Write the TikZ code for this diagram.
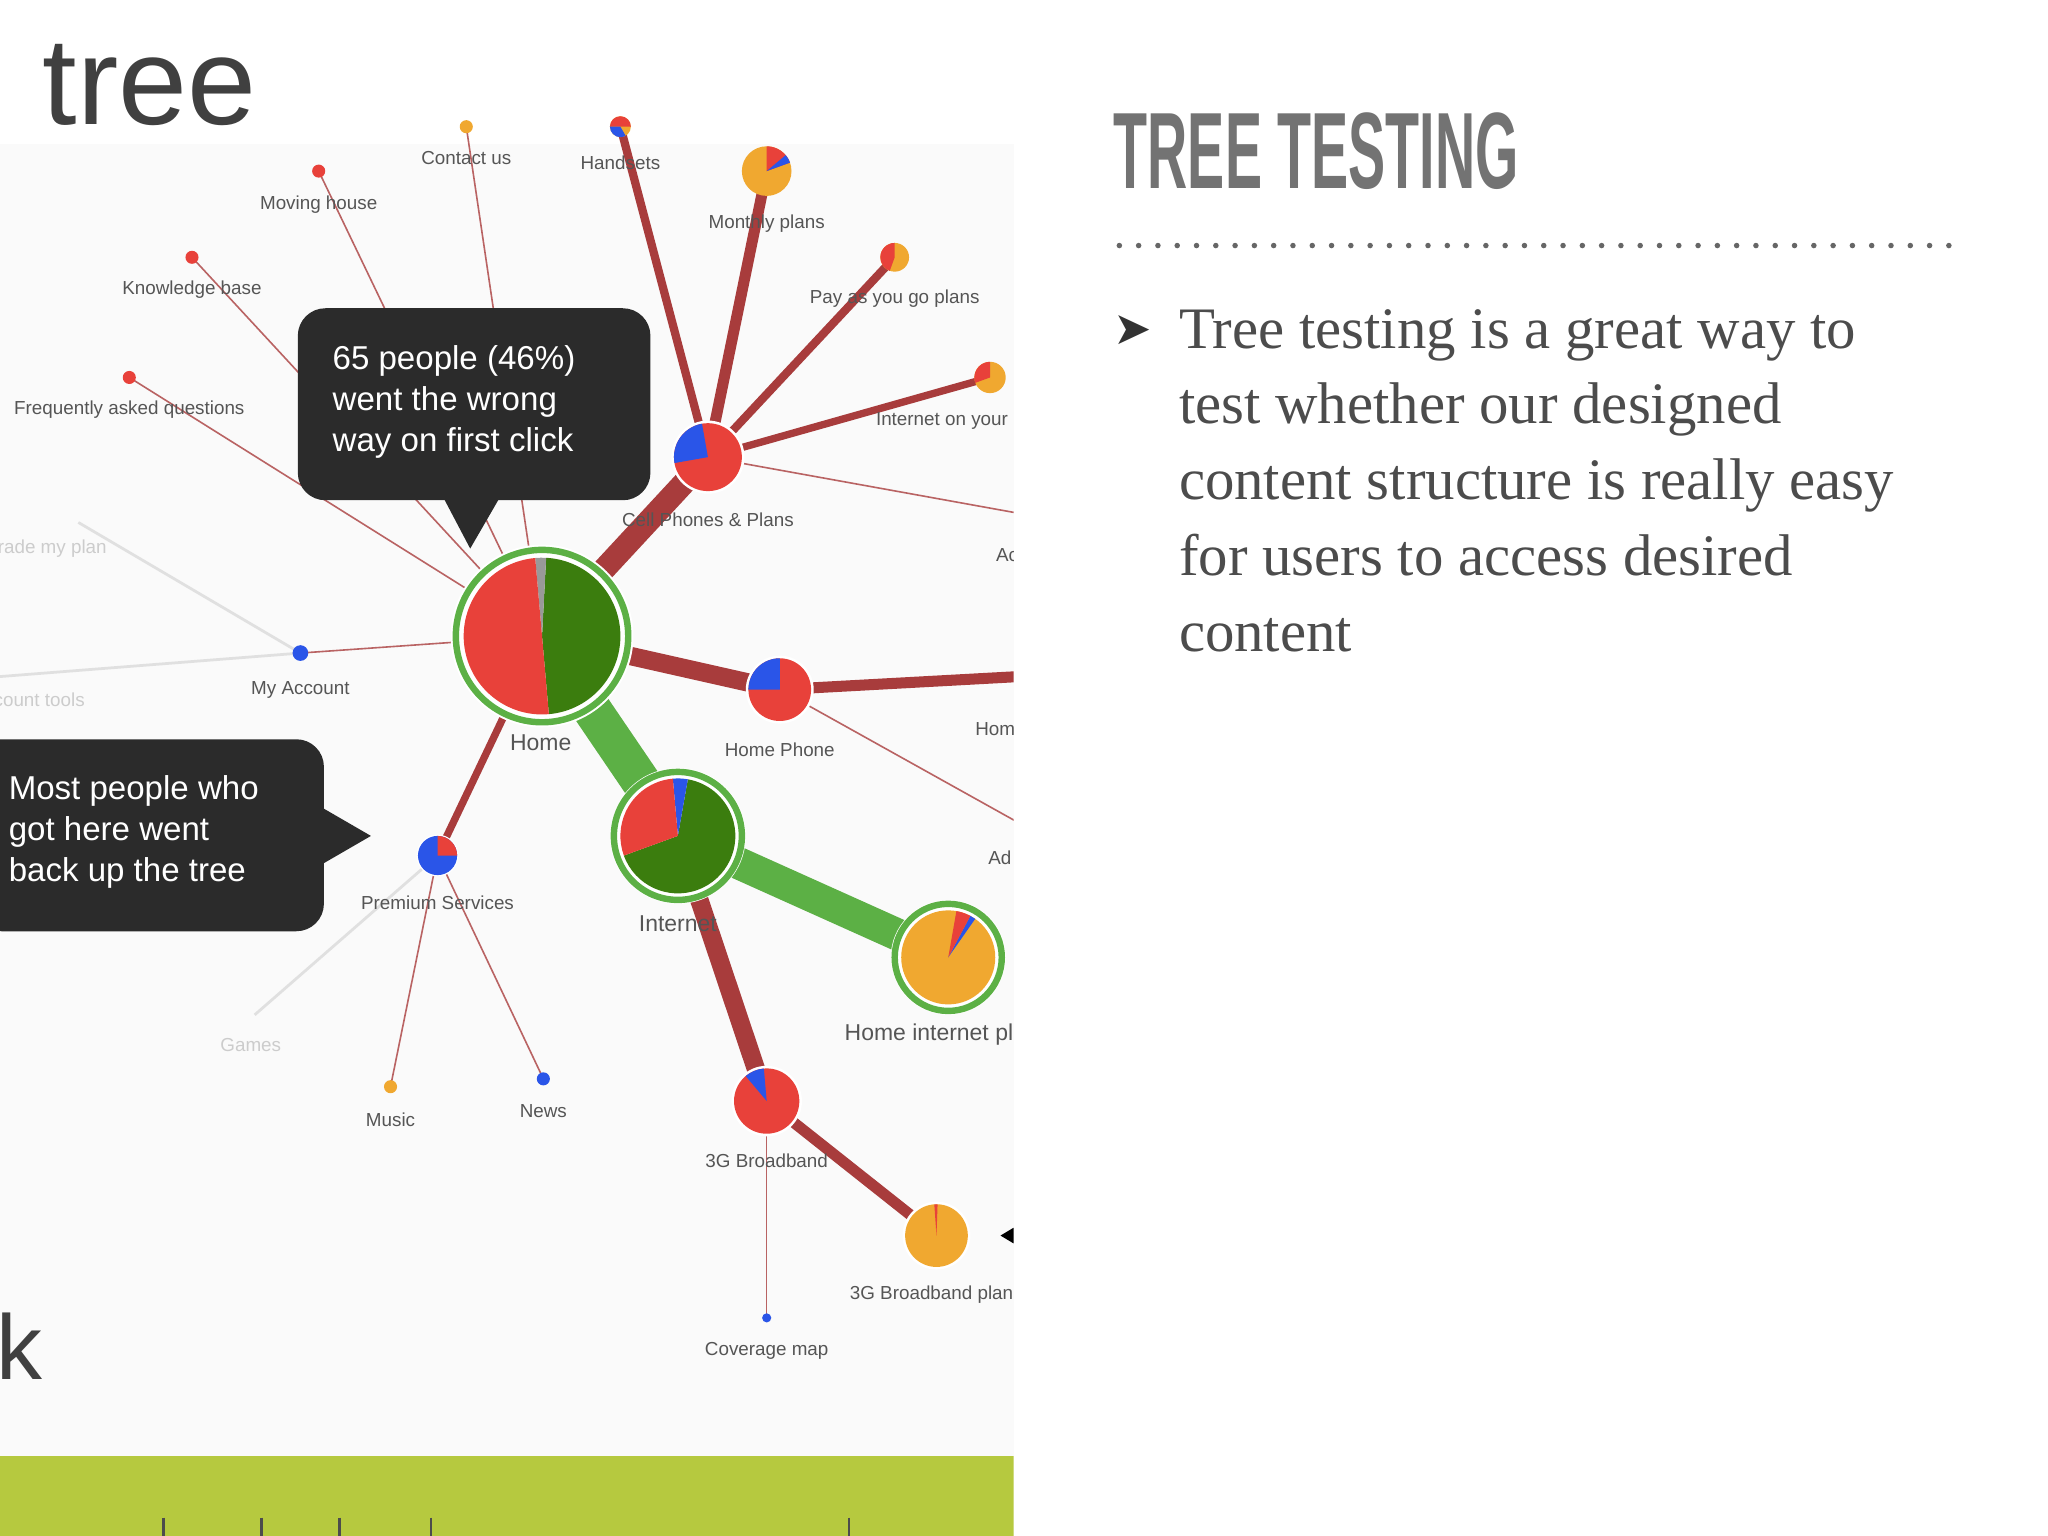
\documentclass[tikz,border=0pt]{standalone}
\usepackage{fontspec}
\setmainfont{Liberation Sans}
\newfontfamily\bodyfont{Liberation Serif}
\newfontfamily\symfont{DejaVu Sans}
\definecolor{pr}{HTML}{E8413A}
\definecolor{pg}{HTML}{3B7D0E}
\definecolor{pb}{HTML}{2A55E8}
\definecolor{po}{HTML}{F0A830}
\definecolor{er}{HTML}{A83C3C}
\definecolor{eg}{HTML}{5CB045}
\definecolor{tip}{HTML}{2B2B2B}
\definecolor{lbl}{HTML}{555555}
\definecolor{bar}{HTML}{B6C93F}
\tikzset{
  lab/.style={font=\fontsize{4.1}{5}\selectfont, text=lbl, inner sep=0pt},
  faint/.style={font=\fontsize{4.1}{5}\selectfont, text=black!20, inner sep=0pt},
  tiptext/.style={font=\fontsize{7.2}{8.9}\selectfont, text=white, align=left, inner sep=0pt, anchor=north west},
  thick edge/.style={draw=er, line width=#1},
  thin edge/.style={draw=er!80, line width=0.35pt},
  dot/.style={circle, inner sep=0pt, minimum size=0.1cm},
}
\newcommand{\pwedge}[5]{\fill[#5] (#1) -- ++(#2:#4) arc[start angle=#2, end angle=#3, radius=#4] -- cycle;}
\begin{document}
\begin{tikzpicture}[x=0.01cm,y=0.01cm]
\useasboundingbox (0,0) rectangle (1568,-1176);
\fill[white] (0,0) rectangle (1568,-1176);
\fill[black!2] (0,-110) rectangle (776,-1115);
\begin{scope}
\clip (0,0) rectangle (776,-1176);
\node[anchor=base east, font=\fontsize{27}{27}\selectfont, text=black!75, inner sep=0pt] (tree) at (197,-95) {tree};
\node[anchor=base west, font=\fontsize{20}{20}\selectfont, text=black!75, inner sep=0pt] (kk) at (-3,-1056) {k};
\fill[bar] (0,-1115) rectangle (776,-1176);
\foreach \x in {125,200,260,330,650} \draw[black!70, line width=0.6pt] (\x,-1162) -- (\x,-1176);
\coordinate (home) at (415,-487);
\coordinate (cell) at (542,-350);
\coordinate (hphone) at (597,-528);
\coordinate (inet) at (519,-640);
\coordinate (hip) at (726,-733);
\coordinate (g3) at (587,-843);
\coordinate (g3p) at (717,-946);
\coordinate (prem) at (335,-655);
\coordinate (myacc) at (230,-500);
\coordinate (contact) at (357,-97);
\coordinate (moving) at (244,-131);
\coordinate (kb) at (147,-197);
\coordinate (faq) at (99,-289);
\coordinate (hand) at (475,-97);
\coordinate (month) at (587,-131);
\coordinate (payg) at (685,-197);
\coordinate (iony) at (758,-289);
\coordinate (music) at (299,-832);
\coordinate (news) at (416,-826);
\coordinate (cov) at (587,-1009);
\coordinate (ac) at (780,-393);
\coordinate (hpr) at (780,-518);
\coordinate (hpr2) at (780,-630);
\coordinate (fl1) at (0,-518);
\coordinate (fl2) at (60,-400);
\coordinate (fl3) at (195,-777);
\draw[black!12, line width=0.6pt] (myacc) -- (fl1);
\draw[black!12, line width=0.6pt] (myacc) -- (fl2);
\draw[black!12, line width=0.6pt] (prem) -- (fl3);
\node[faint] (f1) at (40,-420) {rade my plan};
\node[faint] (f2) at (30,-536) {count tools};
\node[faint] (f3) at (192,-800) {Games};
\draw[thin edge] (home) -- (contact);
\draw[thin edge] (home) -- (moving);
\draw[thin edge] (home) -- (kb);
\draw[thin edge] (home) -- (faq);
\draw[thin edge] (home) -- (myacc);
\draw[thin edge] (cell) -- (ac);
\draw[thin edge] (hphone) -- (hpr2);
\draw[thin edge] (prem) -- (music);
\draw[thin edge] (prem) -- (news);
\draw[thin edge] (g3) -- (cov);
\draw[thick edge=1.6pt] (home) -- (prem);
\draw[thick edge=1.8pt] (cell) -- (hand);
\draw[thick edge=2.4pt] (cell) -- (month);
\draw[thick edge=1.8pt] (cell) -- (payg);
\draw[thick edge=1.6pt] (cell) -- (iony);
\draw[thick edge=2.4pt] (hphone) -- (hpr);
\draw[thick edge=5pt] (home) -- (cell);
\draw[thick edge=4pt] (home) -- (hphone);
\draw[thick edge=4pt] (inet) -- (g3);
\draw[thick edge=2.4pt] (g3) -- (g3p);
\draw[draw=eg, line width=8.5pt] (home) -- (inet);
\draw[draw=eg, line width=7pt] (inet) -- (hip);
\fill[white] (home) circle[radius=70];
\draw[eg, line width=1.4pt] (home) circle[radius=66];
\pwedge{home}{-85}{87}{60}{pg}
\pwedge{home}{87}{95}{60}{black!40}
\pwedge{home}{95}{275}{60}{pr}
\fill[white] (inet) circle[radius=52];
\draw[eg, line width=1.4pt] (inet) circle[radius=49];
\pwedge{inet}{-160}{80}{44}{pg}
\pwedge{inet}{80}{95}{44}{pb}
\pwedge{inet}{95}{200}{44}{pr}
\fill[white] (hip) circle[radius=44];
\draw[eg, line width=1.4pt] (hip) circle[radius=41];
\fill[po] (hip) circle[radius=36];
\pwedge{hip}{55}{62}{36}{pb}
\pwedge{hip}{62}{80}{36}{pr}
\fill[white] (cell) circle[radius=28];
\fill[pr] (cell) circle[radius=26];
\pwedge{cell}{100}{190}{26}{pb}
\fill[white] (hphone) circle[radius=26];
\fill[pr] (hphone) circle[radius=24];
\pwedge{hphone}{90}{180}{24}{pb}
\fill[white] (g3) circle[radius=27];
\fill[pr] (g3) circle[radius=25];
\pwedge{g3}{95}{130}{25}{pb}
\fill[white] (g3p) circle[radius=26];
\fill[po] (g3p) circle[radius=24];
\pwedge{g3p}{88}{94}{24}{pr}
\fill[white] (prem) circle[radius=16];
\fill[pb] (prem) circle[radius=15];
\pwedge{prem}{0}{90}{15}{pr}
\fill[po] (month) circle[radius=19];
\pwedge{month}{20}{90}{19}{pr}
\pwedge{month}{20}{40}{19}{pb}
\fill[po] (payg) circle[radius=11];
\pwedge{payg}{90}{250}{11}{pr}
\fill[po] (iony) circle[radius=12];
\pwedge{iony}{90}{200}{12}{pr}
\fill[po] (hand) circle[radius=8];
\pwedge{hand}{0}{180}{8}{pr}
\pwedge{hand}{180}{300}{8}{pb}
\node[dot, fill=pb, minimum size=0.12cm] (myaccd) at (myacc) {};
\node[dot, fill=po] (contactd) at (contact) {};
\node[dot, fill=pr] (movingd) at (moving) {};
\node[dot, fill=pr] (kbd) at (kb) {};
\node[dot, fill=pr] (faqd) at (faq) {};
\node[dot, fill=po] (musicd) at (music) {};
\node[dot, fill=pb] (newsd) at (news) {};
\node[dot, fill=pb, minimum size=0.07cm] (covd) at (cov) {};
\node[lab] (l1) at (357,-121) {Contact us};
\node[lab] (l2) at (244,-157) {Moving house};
\node[lab] (l3) at (147,-222) {Knowledge base};
\node[lab] (l4) at (99,-314) {Frequently asked questions};
\node[lab] (l5) at (475,-125) {Handsets};
\node[lab] (l6) at (587,-171) {Monthly plans};
\node[lab] (l7) at (685,-229) {Pay as you go plans};
\node[lab, anchor=west] (l8) at (670,-322) {Internet on your};
\node[lab] (l9) at (542,-398) {Cell Phones \& Plans};
\node[lab, anchor=west] (l10) at (762,-425) {Ac};
\node[lab] (l11) at (230,-528) {My Account};
\node[lab, font=\fontsize{5}{6}\selectfont] (l12) at (414,-569) {Home};
\node[lab] (l13) at (597,-574) {Home Phone};
\node[lab, anchor=west] (l14) at (746,-558) {Hom};
\node[lab, anchor=west] (l15) at (756,-657) {Ad};
\node[lab] (l16) at (335,-691) {Premium Services};
\node[lab, font=\fontsize{5}{6}\selectfont] (l17) at (519,-707) {Internet};
\node[lab, anchor=west, font=\fontsize{5}{6}\selectfont] (l18) at (646,-792) {Home internet plans};
\node[lab] (l19) at (299,-857) {Music};
\node[lab] (l20) at (416,-851) {News};
\node[lab] (l21) at (587,-889) {3G Broadband};
\node[lab, anchor=west] (l22) at (650,-991) {3G Broadband plan};
\node[lab] (l23) at (587,-1034) {Coverage map};
\fill[black] (766,-946) -- (776,-940) -- (776,-952) -- cycle;
\fill[tip, rounded corners=6] (228,-236) rectangle (498,-383);
\fill[tip] (340,-382) -- (360,-420) -- (382,-382) -- cycle;
\node[tiptext] (t1) at (254,-264) {65 people (46\%)\\went the wrong\\way on first click};
\fill[tip, rounded corners=6] (-20,-566) rectangle (248,-713);
\fill[tip] (246,-618) -- (284,-640) -- (246,-662) -- cycle;
\node[tiptext] (t2) at (6,-593) {Most people who\\got here went\\back up the tree};
\end{scope}
\node[anchor=south west, inner sep=0pt, text=black!55] (title) at (852,-146)
  {\resizebox{3.1cm}{0.58cm}{\bfseries TREE TESTING}};
\draw[black!60, line width=1.2pt, dash pattern=on 0pt off 4.2pt, line cap=round] (857,-188) -- (1497,-188);
\node[anchor=west, inner sep=0pt, font=\symfont\fontsize{10}{10}\selectfont, text=black!80] (bul) at (852,-253) {➤};
\node[anchor=north west, inner sep=0pt, align=left, text=black!70, font=\bodyfont\fontsize{12.8}{16.5}\selectfont] (body) at (902,-236)
  {Tree testing is a great way to\\test whether our designed\\content structure is really easy\\for users to access desired\\content};
\end{tikzpicture}
\end{document}
